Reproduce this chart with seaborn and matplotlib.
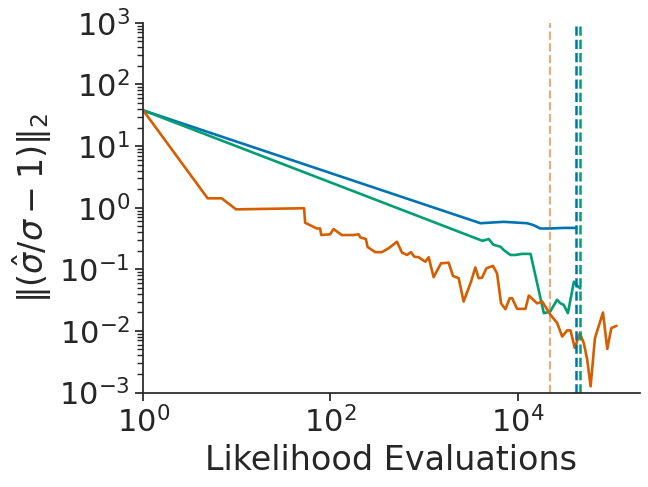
import numpy as np
import pandas as pd
import seaborn as sns
import matplotlib
matplotlib.use("Agg")
import matplotlib.pyplot as plt
from matplotlib.ticker import NullLocator

# blue run
blue_x = [1, 4000, 7080, 12600, 14800, 17400, 22200, 31000, 41700]
blue_y = [38, 0.56, 0.59, 0.56, 0.52, 0.46, 0.46, 0.47, 0.47]

# green run
green_x = [1, 4200, 4900, 5500, 6530, 7080, 8340, 9440, 11100, 13700, 19000,
           22200, 26300, 28600, 31000, 34300, 39800, 43200, 46500]
green_y = [38, 0.29, 0.31, 0.25, 0.233, 0.206, 0.171, 0.171, 0.178, 0.178, 0.0194,
           0.0206, 0.032, 0.028, 0.0265, 0.0194, 0.063, 0.054, 0.049]

# orange run
orange_x = [1, 4.88, 6.89, 9.8, 52.3, 53.6, 71.4, 77.6, 79.7, 99, 108, 132, 176, 200,
            208, 239, 249, 301, 355, 418, 513, 580, 656, 724, 785, 873, 1030, 1118,
            1264, 1515, 1828, 2036, 2339, 2643, 3170, 3524, 3826, 4156, 4624, 5447,
            6010, 6635, 7380, 8210, 8710, 9840, 12080, 13120, 16110, 18240, 22390,
            26380, 29810, 33730, 36560, 40660, 46000, 50800, 55200, 60000, 66700,
            81300, 90400, 99800, 113500]
orange_y = [38, 1.42, 1.42, 0.94, 0.98, 0.57, 0.46, 0.46, 0.36, 0.37, 0.45, 0.36, 0.36,
            0.37, 0.33, 0.31, 0.23, 0.19, 0.19, 0.22, 0.28, 0.187, 0.171, 0.19, 0.16,
            0.157, 0.133, 0.157, 0.0745, 0.125, 0.128, 0.078, 0.0717, 0.030, 0.063,
            0.107, 0.0717, 0.073, 0.104, 0.1135, 0.086, 0.028, 0.0225, 0.034, 0.034,
            0.0228, 0.0228, 0.0375, 0.028, 0.030, 0.0182, 0.0134, 0.0081, 0.0102,
            0.0102, 0.0053, 0.0092, 0.0063, 0.0034, 0.00126, 0.0076, 0.0199, 0.0051,
            0.0111, 0.0121]

# where each run stopped
stop_orange = 22200
stop_blue = 41700
stop_green = 46500

sns.set_theme(style="ticks", font_scale=2)
pal = sns.color_palette("colorblind")
c_blue, c_green, c_orange = pal[0], pal[2], pal[3]

fig, ax = plt.subplots(figsize=(6.48, 4.87), dpi=100)
fig.subplots_adjust(left=0.221, right=0.987, top=0.953, bottom=0.194)

sns.lineplot(x=blue_x, y=blue_y, color=c_blue, lw=1.9, sort=False, estimator=None, ax=ax)
sns.lineplot(x=green_x, y=green_y, color=c_green, lw=1.9, sort=False, estimator=None, ax=ax)
sns.lineplot(x=orange_x, y=orange_y, color=c_orange, lw=1.9, sort=False, estimator=None, ax=ax)

ax.axvline(stop_orange, color=c_orange, ls="--", lw=1.6, alpha=0.5)
ax.axvline(stop_blue, color=c_blue, ls="--", lw=1.8)
ax.axvline(stop_green, color=c_green, ls="--", lw=1.8)

ax.set_xscale("log")
ax.set_yscale("log")
ax.set_xlim(1, 2e5)
ax.set_ylim(1e-3, 1e3)
ax.xaxis.set_minor_locator(NullLocator())
ax.set_xlabel("Likelihood Evaluations")
ax.set_ylabel(r"$\|(\hat{\sigma}/\sigma - 1)\|_2$")
sns.despine()

plt.savefig("out.png", dpi=100)
